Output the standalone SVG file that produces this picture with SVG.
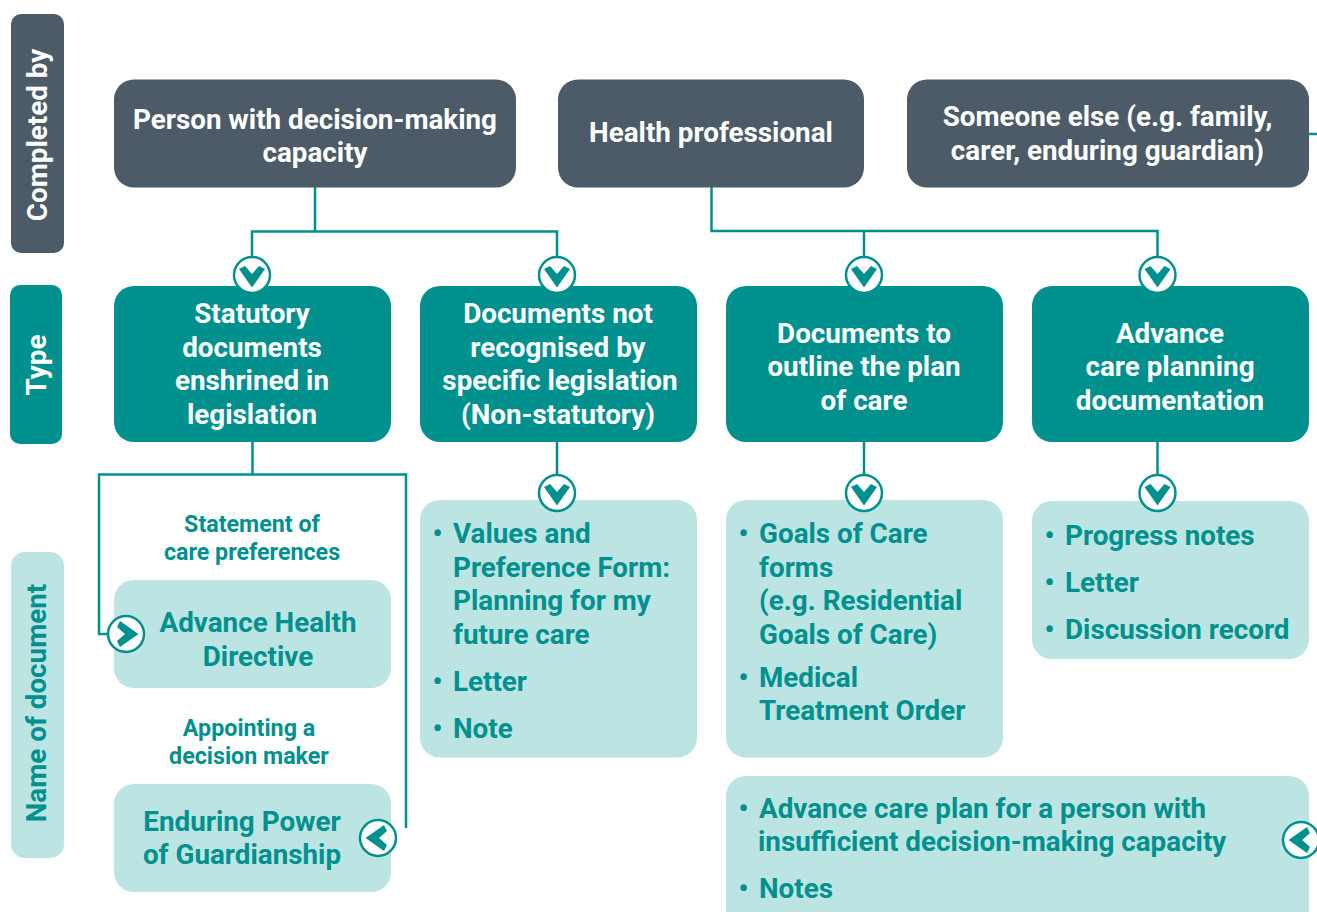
<svg xmlns="http://www.w3.org/2000/svg" width="1317" height="912" viewBox="0 0 1317 912">
<style>
text{font-family:Roboto,"Liberation Sans",sans-serif;font-weight:700}
.w{fill:#fff;font-size:27.8px;text-anchor:middle}
.t{fill:#00918f;font-size:27.8px}
.m{text-anchor:middle}
.s{font-size:23.25px}
.dark{fill:#4d5b68}.teal{fill:#00918f}.pale{fill:#bce4e2}
.c{fill:none;stroke:#00918f;stroke-width:2.500}
.ci{fill:#fff;stroke:#00918f;stroke-width:2.500}
.ch{fill:#00918f}
</style>
<defs>
<g id="ad"><circle class="ci" r="18"/><path class="ch" d="M-13,-6 L-7,-9 L0,-1 L7,-9 L13,-6 L0,12.500 Z"/></g>
</defs>
<rect x="0" y="0" width="1317" height="912" fill="#fff"/>
<g id="connectors">
<path class="c" d="M315,187V231.500M252,275V231.500H557V275"/>
<path class="c" d="M711.500,187V231H1157.500V275M864,231V275"/>
<path class="c" d="M1309,134H1317"/>
<path class="c" d="M252.500,441V474.500M126,634H99V474.500H406V828"/>
<path class="c" d="M557,441V493M864,441V493M1157.500,441V493"/>
</g>
<g id="label-completed"><rect x="11" y="14" width="53" height="239" rx="10" class="dark"/><text class="w" transform="translate(47,135) rotate(-90)">Completed by</text></g>
<g id="label-type"><rect x="10" y="285" width="52" height="159" rx="10" class="teal"/><text class="w" transform="translate(46,365) rotate(-90)">Type</text></g>
<g id="label-name"><rect x="11" y="552" width="53" height="306" rx="14" class="pale"/><text class="t m" transform="translate(46,703) rotate(-90)">Name of document</text></g>
<g id="person"><rect x="114" y="79.500" width="402" height="108" rx="20" class="dark"/><text class="w" x="315" y="129">Person with decision-making</text><text class="w" x="315" y="162">capacity</text></g>
<g id="health"><rect x="558" y="79.500" width="306" height="108" rx="20" class="dark"/><text class="w" x="711" y="142">Health professional</text></g>
<g id="someone"><rect x="907" y="79.500" width="402" height="108" rx="20" class="dark"/><text class="w" x="1107.500" y="126">Someone else (e.g. family,</text><text class="w" x="1107.500" y="160">carer, enduring guardian)</text></g>
<g id="statutory"><rect x="114" y="286" width="277" height="156" rx="20" class="teal"/><text class="w" x="252" y="323">Statutory</text><text class="w" x="252" y="357">documents</text><text class="w" x="252" y="390">enshrined in</text><text class="w" x="252" y="424">legislation</text></g>
<g id="nonstat"><rect x="420" y="286" width="277" height="156" rx="20" class="teal"/><text class="w" x="558" y="323">Documents not</text><text class="w" x="558" y="357">recognised by</text><text class="w" x="560" y="390">specific legislation</text><text class="w" x="558" y="424">(Non-statutory)</text></g>
<g id="plan"><rect x="726" y="286" width="277" height="156" rx="20" class="teal"/><text class="w" x="864" y="342.500">Documents to</text><text class="w" x="864" y="375.500">outline the plan</text><text class="w" x="864" y="409.500">of care</text></g>
<g id="acp"><rect x="1032" y="286" width="277" height="156" rx="20" class="teal"/><text class="w" x="1170" y="342.500">Advance</text><text class="w" x="1170" y="375.500">care planning</text><text class="w" x="1170" y="409.500">documentation</text></g>
<g id="statement"><text class="t m s" x="252" y="532">Statement of</text><text class="t m s" x="252" y="560">care preferences</text></g>
<g id="ahd"><rect x="114" y="580" width="277" height="108" rx="20" class="pale"/><text class="t m" x="258" y="632">Advance Health</text><text class="t m" x="258" y="666">Directive</text></g>
<g id="appointing"><text class="t m s" x="249" y="736">Appointing a</text><text class="t m s" x="249" y="764">decision maker</text></g>
<g id="epg"><rect x="114" y="784" width="277" height="108" rx="20" class="pale"/><text class="t m" x="242" y="831">Enduring Power</text><text class="t m" x="242" y="864">of Guardianship</text></g>
<g id="list-values"><rect x="420" y="500" width="277" height="257.500" rx="20" class="pale"/><text class="t" x="432.500" y="543">•</text><text class="t" x="453" y="543">Values and</text><text class="t" x="453" y="577">Preference Form:</text><text class="t" x="453" y="610">Planning for my</text><text class="t" x="453" y="644">future care</text><text class="t" x="432.500" y="691">•</text><text class="t" x="453" y="691">Letter</text><text class="t" x="432.500" y="738">•</text><text class="t" x="453" y="738">Note</text></g>
<g id="list-goals"><rect x="726" y="500" width="277" height="257.500" rx="20" class="pale"/><text class="t" x="738.500" y="543">•</text><text class="t" x="759" y="543">Goals of Care</text><text class="t" x="759" y="577">forms</text><text class="t" x="759" y="610">(e.g. Residential</text><text class="t" x="759" y="644">Goals of Care)</text><text class="t" x="738.500" y="687">•</text><text class="t" x="759" y="687">Medical</text><text class="t" x="759" y="720">Treatment Order</text></g>
<g id="list-progress"><rect x="1032" y="501" width="277" height="158" rx="20" class="pale"/><text class="t" x="1044.500" y="545">•</text><text class="t" x="1065" y="545">Progress notes</text><text class="t" x="1044.500" y="592">•</text><text class="t" x="1065" y="592">Letter</text><text class="t" x="1044.500" y="639">•</text><text class="t" x="1065" y="639">Discussion record</text></g>
<g id="list-acp"><rect x="726" y="776" width="583" height="156" rx="20" class="pale"/><text class="t" x="738.500" y="818">•</text><text class="t" x="759" y="818">Advance care plan for a person with</text><text class="t" x="758" y="851">insufficient decision-making capacity</text><text class="t" x="738.500" y="898">•</text><text class="t" x="759" y="898">Notes</text></g>
<g id="arrows">
<use href="#ad" transform="translate(252,275)"/>
<use href="#ad" transform="translate(557,275)"/>
<use href="#ad" transform="translate(864,275)"/>
<use href="#ad" transform="translate(1157.500,275)"/>
<use href="#ad" transform="translate(557,493)"/>
<use href="#ad" transform="translate(864,493)"/>
<use href="#ad" transform="translate(1157.500,493)"/>
<use href="#ad" transform="translate(126,634) rotate(-90)"/>
<use href="#ad" transform="translate(378,838) rotate(90)"/>
<use href="#ad" transform="translate(1301,840) rotate(90)"/>
</g>
</svg>
